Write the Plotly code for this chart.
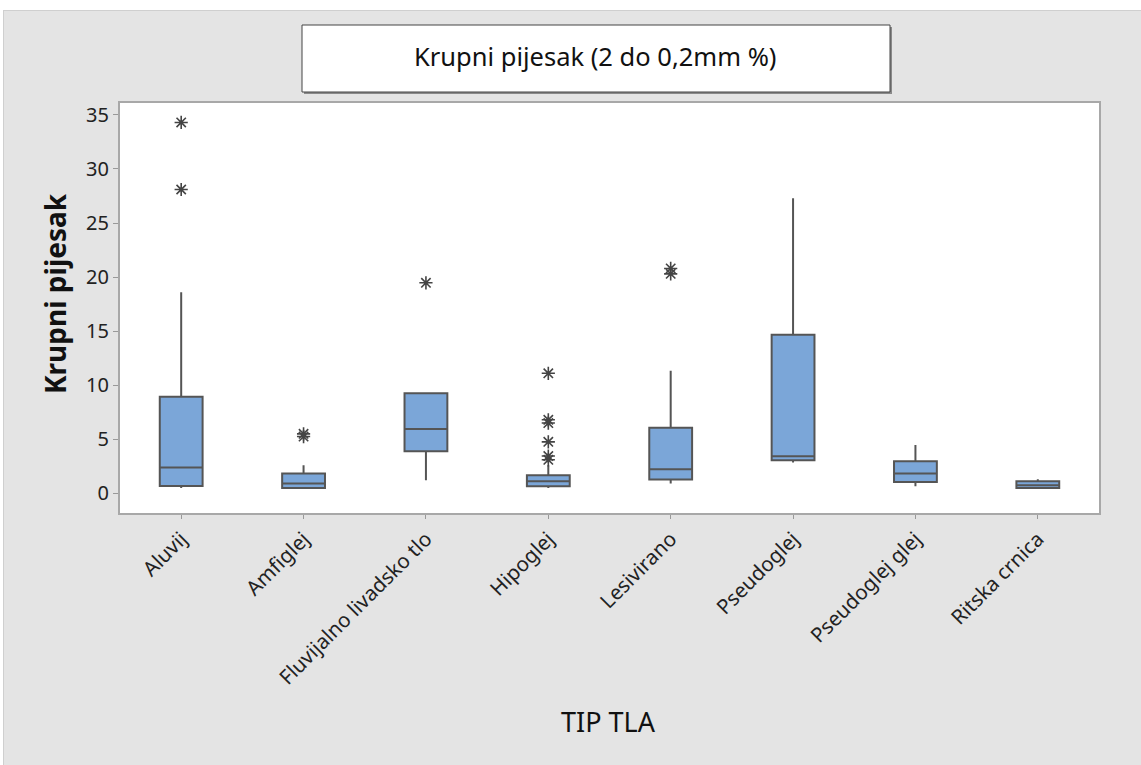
import plotly.graph_objects as go

categories = ["Aluvij", "Amfiglej", "Fluvijalno livadsko tlo", "Hipoglej",
              "Lesivirano", "Pseudoglej", "Pseudoglej glej", "Ritska crnica"]
q1 = [0.68, 0.49, 3.90, 0.65, 1.27, 3.06, 1.05, 0.49]
median = [2.39, 0.90, 5.94, 1.11, 2.23, 3.44, 1.83, 0.74]
q3 = [8.94, 1.83, 9.26, 1.67, 6.06, 14.67, 2.97, 1.11]
lower_whisker = [0.49, 0.49, 1.20, 0.49, 0.90, 2.85, 0.65, 0.49]
upper_whisker = [18.6, 2.60, 9.26, 2.60, 11.33, 27.3, 4.46, 1.30]

outlier_cats = ["Aluvij", "Aluvij", "Amfiglej", "Amfiglej", "Fluvijalno livadsko tlo",
                "Hipoglej", "Hipoglej", "Hipoglej", "Hipoglej", "Hipoglej", "Hipoglej",
                "Lesivirano", "Lesivirano"]
outlier_vals = [34.3, 28.1, 5.25, 5.5, 19.47,
                11.1, 6.5, 6.8, 4.76, 3.1, 3.45,
                20.3, 20.8]

y_ticks = [0, 5, 10, 15, 20, 25, 30, 35]

fig = go.Figure()
fig.add_trace(go.Box(
    x=categories, q1=q1, median=median, q3=q3,
    lowerfence=lower_whisker, upperfence=upper_whisker,
    boxpoints=False, width=0.35, whiskerwidth=0,
    fillcolor="#7BA6D8", line=dict(color="#555555", width=2),
    showlegend=False, hoverinfo="skip"))
fig.add_trace(go.Scatter(
    x=outlier_cats, y=outlier_vals, mode="markers",
    marker=dict(symbol="asterisk-open", size=11, color="#444444",
                line=dict(color="#444444", width=1.6)),
    showlegend=False, hoverinfo="skip"))

L, R, T, B = 120, 42, 103, 252
W, H = 1141, 765
pw, ph = W - L - R, H - T - B

def px(xp):
    return (xp - L) / pw

def py(yp):
    return (H - B - yp) / ph

shapes = [
    # white strips outside the grey panel
    dict(type="rect", xref="paper", yref="paper",
         x0=px(-5), x1=px(1146), y0=py(10), y1=py(-5),
         fillcolor="white", line=dict(width=0)),
    dict(type="rect", xref="paper", yref="paper",
         x0=px(-5), x1=px(3), y0=py(770), y1=py(-5),
         fillcolor="white", line=dict(width=0)),
    dict(type="line", xref="paper", yref="paper",
         x0=px(3), x1=px(1146), y0=py(10.5), y1=py(10.5),
         line=dict(color="#cfcfcf", width=1)),
    dict(type="line", xref="paper", yref="paper",
         x0=px(3.5), x1=px(3.5), y0=py(10), y1=py(770),
         line=dict(color="#cfcfcf", width=1)),
    # title box shadow
    dict(type="rect", xref="paper", yref="paper",
         x0=px(304), x1=px(892), y0=py(94), y1=py(27),
         fillcolor="#8a8a8a", line=dict(width=0)),
    # title box
    dict(type="rect", xref="paper", yref="paper",
         x0=px(302), x1=px(890), y0=py(92), y1=py(25),
         fillcolor="white", line=dict(color="#444444", width=1)),
]

fig.update_layout(
    width=W, height=H,
    margin=dict(l=L, r=R, t=T, b=B),
    paper_bgcolor="#e4e4e4", plot_bgcolor="white",
    font=dict(family="Noto Sans, Open Sans, sans-serif", color="#222222"),
    shapes=shapes,
    annotations=[
        dict(text="Krupni pijesak (2 do 0,2mm %)", xref="paper", yref="paper",
             x=px(595), y=py(56), xanchor="center", yanchor="middle", showarrow=False,
             font=dict(size=25.5, color="#111111")),
        dict(text="TIP TLA", xref="paper", yref="paper",
             x=px(608), y=py(721), xanchor="center", yanchor="middle", showarrow=False,
             font=dict(size=27, color="#111111")),
        dict(text="<b>Krupni pijesak</b>", xref="paper", yref="paper", textangle=-90,
             x=px(55), y=py(294), xanchor="center", yanchor="middle", showarrow=False,
             font=dict(size=28, color="#111111")),
    ],
    xaxis=dict(
        type="category", range=[-0.5, 7.5], tickangle=-45,
        tickfont=dict(size=20.5, color="#222222"),
        ticks="outside", ticklen=4, tickcolor="#999999",
        showline=True, linecolor="#a8a8a8", linewidth=2, mirror=True,
        showgrid=False, zeroline=False,
    ),
    yaxis=dict(
        range=[-1.82, 36.1], tickvals=y_ticks,
        tickfont=dict(size=20, color="#222222"),
        ticks="outside", ticklen=5, tickcolor="#999999",
        showline=True, linecolor="#a8a8a8", linewidth=2, mirror=True,
        showgrid=False, zeroline=False,
    ),
)

fig.write_html("out.html", config={"displayModeBar": False},
               post_script="document.body.style.margin='0';document.body.style.padding='0';")
